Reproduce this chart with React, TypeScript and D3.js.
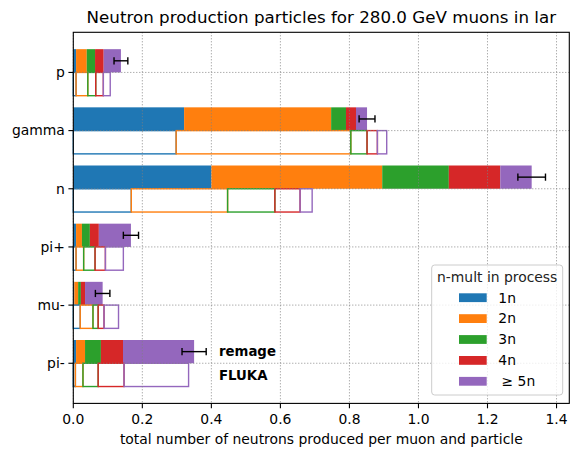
import * as d3 from "d3";

// categories from bottom (index 0) to top
const categories = ["pi-", "mu-", "pi+", "n", "gamma", "p"];
const multLabels = ["1n", "2n", "3n", "4n", "\u2265 5n"];
const colors = ["#1f77b4", "#ff7f0e", "#2ca02c", "#d62728", "#9467bd"];
const xTicks = [0, 0.2, 0.4, 0.6, 0.8, 1.0, 1.2, 1.4];

// remage: neutrons per muon and particle, split by multiplicity
const remage1n = [0.008, 0.003, 0.008, 0.4, 0.321, 0.008];
const remage2n = [0.026, 0.011, 0.017, 0.495, 0.426, 0.031];
const remage3n = [0.046, 0.008, 0.023, 0.193, 0.043, 0.024];
const remage4n = [0.064, 0.012, 0.026, 0.149, 0.029, 0.025];
const remage5n = [0.206, 0.051, 0.093, 0.091, 0.032, 0.05];
const remageErr = [0.035, 0.021, 0.022, 0.04, 0.023, 0.02];

// FLUKA reference
const fluka1n = [0.006, 0.02, 0.008, 0.168, 0.298, 0.008];
const fluka2n = [0.022, 0.037, 0.022, 0.279, 0.506, 0.034];
const fluka3n = [0.044, 0.015, 0.033, 0.137, 0.047, 0.023];
const fluka4n = [0.075, 0.017, 0.03, 0.073, 0.03, 0.022];
const fluka5n = [0.187, 0.042, 0.052, 0.035, 0.027, 0.02];

const W = 578, H = 455;
const left = 73.3, right = 569.3, top = 32.3, bottom = 403.4;
const BAR_H = 0.4;
const font = "DejaVu Sans, sans-serif";

function toRows(series: number[][]) {
  return categories.map((_, i) => {
    const row: Record<string, number> = {};
    series.forEach((s, k) => (row[multLabels[k]] = s[i]));
    return row;
  });
}

const stack = d3.stack<Record<string, number>>().keys(multLabels);
const remageStack = stack(toRows([remage1n, remage2n, remage3n, remage4n, remage5n]));
const flukaStack = stack(toRows([fluka1n, fluka2n, fluka3n, fluka4n, fluka5n]));

export default function App() {
  const x = d3.scaleLinear().domain([0, 1.437]).range([left, right]);
  const y = d3.scaleLinear().domain([-0.69, 5.69]).range([bottom, top]);
  const yTicks = d3.range(categories.length);

  const legX = 431.7, legY = 265, legW = 131, legH = 130;

  return (
    <svg width={W} height={H} style={{ position: "absolute", left: 0, top: 0, background: "#fff" }} fontFamily={font}>
      {/* remage filled bars */}
      {remageStack.map((layer, k) => (
        <g key={"r" + k} fill={colors[k]}>
          {layer.map((d, i) => (
            <rect key={i} x={x(d[0])} width={Math.max(0, x(d[1]) - x(d[0]))}
              y={y(i + BAR_H)} height={y(i) - y(i + BAR_H)} />
          ))}
        </g>
      ))}
      {/* FLUKA outlined bars */}
      {flukaStack.map((layer, k) => (
        <g key={"f" + k} fill="none" stroke={colors[k]} strokeWidth={1.4}>
          {layer.map((d, i) => (
            <rect key={i} x={x(d[0])} width={Math.max(0, x(d[1]) - x(d[0]))}
              y={y(i)} height={y(i - BAR_H) - y(i)} />
          ))}
        </g>
      ))}
      {/* grid */}
      <g stroke="#808080" strokeWidth={0.9} strokeDasharray="1,2">
        {xTicks.map((t) => (
          <line key={"gx" + t} x1={x(t)} x2={x(t)} y1={top} y2={bottom} />
        ))}
        {yTicks.map((t) => (
          <line key={"gy" + t} x1={left} x2={right} y1={y(t)} y2={y(t)} />
        ))}
      </g>
      {/* error bars */}
      <g stroke="#000" strokeWidth={1.4}>
        {remageStack[remageStack.length - 1].map((d, i) => {
          const cy = y(i + BAR_H / 2);
          const x0 = x(d[1] - remageErr[i]), x1 = x(d[1] + remageErr[i]);
          return (
            <g key={i}>
              <line x1={x0} x2={x1} y1={cy} y2={cy} />
              <line x1={x0} x2={x0} y1={cy - 3.6} y2={cy + 3.6} />
              <line x1={x1} x2={x1} y1={cy - 3.6} y2={cy + 3.6} />
            </g>
          );
        })}
      </g>
      <text x={x(0.422)} y={y(0.2)} dy="0.35em" fontSize={13.3} fontWeight="bold">remage</text>
      <text x={x(0.422)} y={y(-0.2)} dy="0.35em" fontSize={13.3} fontWeight="bold">FLUKA</text>
      {/* legend */}
      <g>
        <rect x={legX} y={legY} width={legW} height={legH} rx={3} fill="#fff" fillOpacity={0.8} stroke="#cccccc" strokeWidth={1} />
        <text x={legX + legW / 2} y={281.7} textAnchor="middle" fontSize={13.9} fill="#222">n-mult in process</text>
        {multLabels.map((m, k) => {
          const cy = 297.7 + k * 20.9;
          return (
            <g key={m}>
              <rect x={459} y={cy - 4.4} width={27.7} height={8.8} fill={colors[k]} />
              <text x={k === 4 ? 501.5 : 498.3} y={cy} dy="0.35em" fontSize={13.9} fill="#000">{m}</text>
            </g>
          );
        })}
      </g>
      {/* spines */}
      <rect x={left} y={top} width={right - left} height={bottom - top} fill="none" stroke="#000" strokeWidth={1.1} />
      {/* x axis */}
      <g fontSize={13.9} textAnchor="middle">
        {xTicks.map((t) => (
          <g key={"xt" + t}>
            <line x1={x(t)} x2={x(t)} y1={bottom} y2={bottom + 4.9} stroke="#000" strokeWidth={1.1} />
            <text x={x(t)} y={423.6}>{t.toFixed(1)}</text>
          </g>
        ))}
      </g>
      <text x={(left + right) / 2} y={443.6} textAnchor="middle" fontSize={13.9}>
        total number of neutrons produced per muon and particle
      </text>
      {/* y axis */}
      <g fontSize={13.9} textAnchor="end">
        {yTicks.map((t) => (
          <g key={"yt" + t}>
            <line x1={left - 4.9} x2={left} y1={y(t)} y2={y(t)} stroke="#000" strokeWidth={1.1} />
            <text x={left - 8.5} y={y(t)} dy="0.35em">{categories[t]}</text>
          </g>
        ))}
      </g>
      <text x={(left + right) / 2} y={23.3} textAnchor="middle" fontSize={16.7}>
        Neutron production particles for 280.0 GeV muons in lar
      </text>
    </svg>
  );
}
